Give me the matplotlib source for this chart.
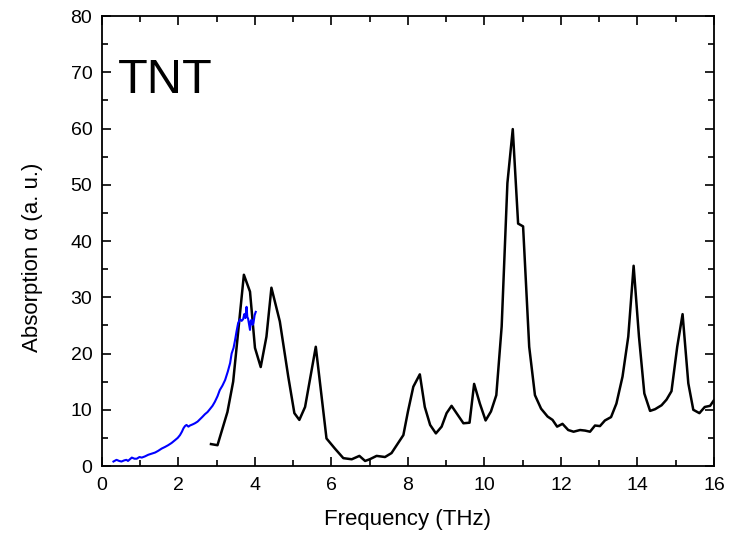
import matplotlib
matplotlib.use('Agg')
import matplotlib.pyplot as plt
from matplotlib.ticker import MultipleLocator

plt.rcParams['font.family'] = ['Liberation Sans', 'DejaVu Sans']

# black curve: calculated absorption
freq_calc = [2.85, 3.02, 3.28, 3.43, 3.71, 3.87, 4.0, 4.15, 4.3, 4.43, 4.65, 4.87,
             5.03, 5.16, 5.31, 5.59, 5.87, 6.09, 6.31, 6.53, 6.73, 6.88, 7.0, 7.18,
             7.4, 7.57, 7.88, 8.0, 8.14, 8.31, 8.44, 8.58, 8.73, 8.88, 9.01, 9.14,
             9.3, 9.45, 9.61, 9.73, 9.88, 10.03, 10.17, 10.31, 10.45, 10.6, 10.74,
             10.88, 11.01, 11.17, 11.32, 11.48, 11.65, 11.78, 11.9, 12.04, 12.19,
             12.33, 12.5, 12.63, 12.76, 12.89, 13.02, 13.15, 13.31, 13.45, 13.61,
             13.76, 13.9, 14.04, 14.18, 14.33, 14.46, 14.63, 14.76, 14.89, 15.04,
             15.18, 15.33, 15.46, 15.62, 15.76, 15.9, 16.0]
abs_calc = [3.9, 3.7, 9.6, 15.0, 34.0, 31.0, 21.0, 17.6, 23.0, 31.7, 25.7, 15.9,
            9.4, 8.2, 10.5, 21.2, 4.9, 3.1, 1.4, 1.2, 1.8, 0.9, 1.2, 1.8,
            1.6, 2.3, 5.5, 9.7, 14.1, 16.3, 10.5, 7.3, 5.8, 7.0, 9.4, 10.7,
            9.1, 7.6, 7.7, 14.6, 11.1, 8.1, 9.7, 12.6, 24.8, 50.3, 59.9,
            43.1, 42.6, 21.2, 12.6, 10.2, 8.8, 8.2, 7.0, 7.5, 6.4,
            6.1, 6.4, 6.3, 6.1, 7.2, 7.1, 8.1, 8.7, 11.1, 15.9,
            23.0, 35.6, 23.0, 12.9, 9.8, 10.1, 10.8, 11.8, 13.3, 21.2,
            27.0, 14.7, 10.0, 9.4, 10.5, 10.7, 11.7]

# blue curve: measured absorption
freq_meas = [0.30, 0.38, 0.45, 0.51, 0.58, 0.64, 0.68, 0.78, 0.85, 0.91, 0.98, 1.04,
             1.12, 1.21, 1.30, 1.39, 1.47, 1.56, 1.65, 1.73, 1.82, 1.91, 1.98, 2.04,
             2.09, 2.13, 2.17, 2.21, 2.26, 2.30, 2.37, 2.43, 2.50, 2.56, 2.62, 2.69,
             2.76, 2.82, 2.89, 2.95, 3.02, 3.08, 3.15, 3.22, 3.29, 3.35, 3.39, 3.44,
             3.48, 3.52, 3.56, 3.61, 3.65, 3.69, 3.72, 3.75, 3.78, 3.80, 3.82, 3.85,
             3.87, 3.89, 3.91, 3.94, 3.96, 3.99, 4.02]
abs_meas = [0.8, 1.1, 0.9, 0.8, 1.0, 1.1, 0.9, 1.5, 1.3, 1.3, 1.6, 1.5,
            1.7, 2.0, 2.2, 2.4, 2.7, 3.1, 3.4, 3.7, 4.1, 4.6, 5.0, 5.5,
            6.1, 6.7, 7.1, 7.3, 7.0, 7.2, 7.4, 7.6, 7.9, 8.3, 8.7, 9.2,
            9.6, 10.1, 10.7, 11.4, 12.4, 13.5, 14.3, 15.3, 16.8, 18.3, 20.0, 21.0,
            22.4, 24.0, 25.4, 26.1, 25.8, 26.1, 27.0, 26.3, 28.3, 26.5, 26.2, 25.0,
            24.2, 25.8, 26.0, 25.1, 25.4, 26.8, 27.4]

fig = plt.figure(figsize=(7.3, 5.34), dpi=100)
ax = fig.add_axes([0.1397, 0.1273, 0.8383, 0.8427])

ax.plot(freq_calc, abs_calc, color='black', linewidth=1.8)
ax.plot(freq_meas, abs_meas, color='#0000ff', linewidth=1.5)

ax.set_xlim(0, 16)
ax.set_ylim(0, 80)
ax.xaxis.set_major_locator(MultipleLocator(2))
ax.xaxis.set_minor_locator(MultipleLocator(1))
ax.yaxis.set_major_locator(MultipleLocator(10))
ax.yaxis.set_minor_locator(MultipleLocator(5))
ax.tick_params(which='both', direction='in', top=True, right=True, labelsize=14)
ax.tick_params(which='major', length=6.5, width=1.2)
ax.tick_params(which='minor', length=4, width=1.2)
ax.tick_params(axis='x', pad=8)
ax.tick_params(axis='y', pad=7)
for s in ax.spines.values():
    s.set_linewidth(1.3)

ax.set_xlabel('Frequency (THz)', fontsize=16)
ax.set_ylabel('Absorption \u03b1 (a. u.)', fontsize=16)
ax.xaxis.set_label_coords(0.5, -0.095)
ax.yaxis.set_label_coords(-0.097, 0.463)

ax.text(0.026, 0.829, 'TNT', transform=ax.transAxes, fontsize=35, va='baseline')

fig.savefig('out.png', dpi=100)
